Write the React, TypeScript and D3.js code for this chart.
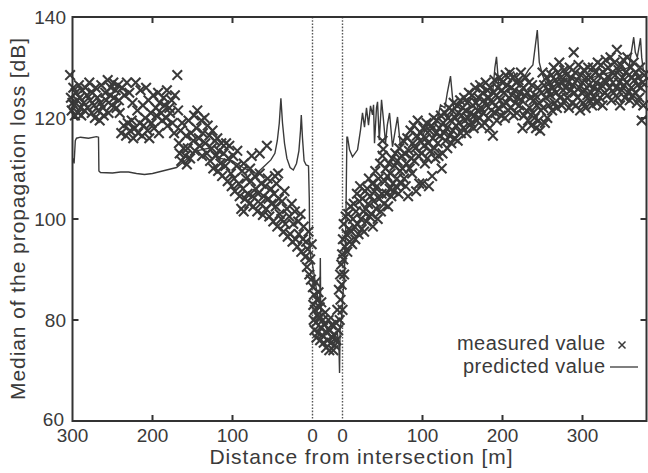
import * as d3 from "d3";

// distance from the intersection [m], median propagation loss [dB]
const measuredWest: [number, number][] = [
  [303, 128.5], [302, 124], [301, 121.5], [300, 123], [299, 126], [298, 122.5], [297, 120.5],
  [296, 125], [294, 123.5], [293, 121], [292, 126.5], [291, 124], [290, 122],
  [289, 120.5], [288, 125.5], [286, 123], [285, 121.5], [284, 126], [282, 124.5], [281, 122],
  [279, 127], [278, 123.5], [276, 121], [275, 125], [273, 122.5], [272, 120], [271, 126],
  [269, 124], [268, 121.5], [266, 119.5], [265, 123], [264, 126.5], [262, 122], [261, 120.5],
  [259, 125], [258, 123.5], [256, 127.5], [255, 121], [253, 124.5], [252, 126], [251, 122.5],
  [249, 127], [248, 124], [246, 125.5], [245, 122], [243, 126.5], [242, 123.5], [241, 121],
  [239, 117], [238, 126], [236, 118.5], [235, 124.5], [233, 116.5], [232, 127], [231, 119],
  [229, 125], [228, 117.5], [226, 119.5], [225, 123], [224, 116], [222, 118], [221, 127],
  [219, 121.5], [218, 117], [216, 119], [215, 125.5], [213, 116.5], [212, 122.5], [211, 118.5],
  [209, 120], [208, 126], [206, 117.5], [205, 123.5], [204, 116], [202, 121], [201, 119],
  [199, 124.5], [198, 118], [196, 122], [195, 120.5], [193, 125], [192, 117], [191, 123],
  [189, 121], [188, 119.5], [186, 124], [185, 122.5], [183, 120], [182, 125.5], [181, 118.5],
  [179, 122], [178, 121], [176, 123.5], [175, 119], [173, 117], [172, 124.5], [169, 128.5],
  [168, 121.5], [167, 115], [166, 113], [165, 117.5], [164, 111.5], [163, 119], [161, 114],
  [159, 112.5], [158, 116.5], [157, 110.8], [156, 114], [155, 119.5], [153, 112], [152, 117],
  [149, 115.5], [148, 120.5], [147, 113.5], [145, 118], [144, 121.5], [142, 116], [141, 114.5],
  [139, 119.5], [138, 112.5], [137, 117], [135, 120], [134, 115], [132, 113], [131, 118.5],
  [129, 116.5], [128, 111.5], [126, 114], [125, 117.5], [124, 110], [122, 115.5], [121, 112.5],
  [119, 116], [118, 109.5], [117, 113.5], [115, 111], [114, 115], [113, 108.5], [111, 113],
  [109, 110.5], [108, 115], [106, 107.5], [105, 112], [104, 114.5], [102, 109], [101, 106.5],
  [99, 112.5], [98, 108], [97, 105.5], [95, 110.5], [94, 113.5], [92, 107], [91, 104.5],
  [89, 102], [88, 109.5], [87, 106], [86, 111], [86, 101.5], [84, 104], [83, 108], [81, 105],
  [79, 103], [78, 110], [77, 107.5], [76, 112.5], [75, 104.5], [74, 102.5], [72, 108.5], [71, 106],
  [69, 101.5], [68, 105], [66, 109], [66, 113], [65, 103], [64, 107], [62, 100.8], [61, 104.5],
  [59, 106.5], [58, 102], [57, 114.5], [56, 108], [55, 104], [54, 100.5], [52, 106], [51, 103],
  [49, 99.5], [48, 105], [47, 108.5], [46, 102.5], [45, 107], [44, 98.5], [43, 109], [42, 104], [41, 101],
  [39, 100], [38, 103.5], [36, 97.5], [35, 105.5], [34, 99], [32, 102], [31, 96.5],
  [29, 100.5], [28, 97], [26, 103], [25, 95.5], [24, 99], [22, 101.5], [21, 96],
  [19, 94.5], [18, 99.5], [17, 97], [15, 101], [14, 93.5], [12, 96], [11, 98.5],
  [9, 92.5], [8, 95.5], [7, 90.5], [6, 94], [5, 97.5], [4, 89], [3, 92], [2, 88], [1, 95],
];

// position inside the intersection [m], loss [dB]
const measuredCentre: [number, number][] = [
  [0.5, 86.5], [1, 83], [1.5, 80], [2, 85], [2.5, 78], [3, 82], [4, 87.5], [4.5, 79.5], [5, 76.5],
  [5.5, 84], [6, 81], [7, 77.5], [7.5, 85.5], [8, 80.5], [9, 82.5], [9.5, 76], [10, 78.5],
  [11, 83.5], [12, 77], [13, 80], [14, 75.5], [15, 79], [16, 81.5], [17, 74.5], [18, 77.5],
  [19, 76], [20, 80], [21, 74], [22, 78], [23, 75.5], [24, 79], [25, 76.5], [26, 74], [27, 77],
  [28, 75], [29, 79.5], [30, 76], [31, 82], [32, 78], [33, 86], [34, 80], [34.5, 89], [35, 84],
  [36, 91], [36.5, 87], [37, 93], [37.5, 82],
];

const measuredEast: [number, number][] = [
  [0.5, 96], [1, 92], [1.5, 99], [2, 89], [3, 94.5], [4, 100.5], [5, 97], [6, 93.5], [7, 101], [8, 98], [9, 95.5],
  [10, 102.5], [11, 97.5], [12, 95], [13, 100], [14, 103], [15, 98.5], [16, 96], [17, 101.5], [18, 105], [19, 99],
  [20, 97], [21, 103.5], [22, 106.5], [23, 100], [24, 98], [25, 104], [26, 101.5], [27, 97.5], [28, 105.5], [29, 102],
  [30, 99.5], [31, 106], [32, 103], [33, 108], [34, 100.5], [35, 104.5], [36, 101], [37, 107], [38, 98.5], [39, 103.5],
  [40, 105.5], [41, 109.5], [42, 102], [43, 106.5], [44, 100], [45, 108], [46, 104], [47, 111], [48, 101.5], [49, 105],
  [50, 115.5], [50, 112.5], [51, 113.8],
  [52, 103], [53, 107.5], [54, 110], [55, 105], [56, 108.5], [57, 102.5], [58, 111], [59, 106],
  [60, 109], [61, 104.5], [62, 112], [63, 107], [64, 105.5], [65, 110.5], [66, 113], [67, 106.5], [68, 108], [69, 111.5],
  [70, 105], [71, 114], [72, 109.5], [73, 107], [74, 112.5], [75, 110], [76, 115.5], [77, 108], [78, 113], [79, 106.5],
  [80, 111], [81, 116], [82, 104.5], [83, 113.5], [84, 110], [85, 117.5], [86, 112], [87, 109], [88, 115], [89, 118.5],
  [90, 111.5], [91, 114], [92, 105.5], [93, 116.5], [94, 119.5], [95, 112.5], [96, 107], [97, 115.5], [98, 117], [99, 113],
  [100, 107], [101, 118], [102, 114.5], [103, 111], [104, 116], [105, 119], [106, 112], [107, 115], [108, 106.5], [109, 117.5],
  [110, 113.5], [111, 118.5], [112, 108.5], [113, 116], [114, 120], [115, 114], [116, 112], [117, 117], [118, 119.5], [119, 115],
  [120, 112.5], [121, 118], [122, 116.5], [123, 120.5], [124, 110], [125, 113], [126, 119], [127, 117], [128, 121], [129, 115.5],
  [130, 118], [131, 114], [132, 120], [133, 122], [134, 116.5], [135, 119.5], [136, 115], [137, 121.5], [138, 117.5], [139, 123],
  [140, 116], [141, 120], [142, 118.5], [143, 122.5], [144, 115.5], [145, 121], [146, 119], [147, 123.5], [148, 117], [149, 120.5],
  [150, 122], [151, 118], [152, 124], [153, 119.5], [154, 121.5], [155, 117], [156, 123], [157, 120], [158, 125], [159, 118.5],
  [160, 121], [161, 119], [162, 124.5], [163, 122.5], [164, 118], [165, 120.5], [166, 126], [167, 123], [168, 119.5], [169, 121.5],
  [170, 124], [171, 120], [172, 126.5], [173, 122], [174, 118.5], [175, 125], [176, 121], [177, 123.5], [178, 119], [179, 127],
  [180, 122.5], [181, 125.5], [182, 120], [183, 124], [184, 118], [185, 126], [186, 121.5], [187, 123], [188, 116.5], [189, 125],
  [190, 127.5], [191, 121], [192, 124.5], [193, 119.5], [194, 126], [195, 122], [196, 128], [197, 123.5], [198, 120.5], [199, 125.5],
  [200, 127], [201, 122.5], [202, 125], [203, 120], [204, 128.5], [205, 123], [206, 126.5], [207, 121.5], [208, 124], [209, 129],
  [210, 122], [211, 126], [212, 124.5], [213, 128], [214, 120.5], [215, 125.5], [216, 123], [217, 127], [218, 121], [219, 124],
  [220, 127.5], [221, 122.5], [222, 125], [223, 129], [224, 123.5], [225, 118], [226, 126], [227, 120.5], [228, 124.5], [229, 128],
  [230, 121.5], [231, 125], [232, 119.5], [233, 127], [234, 122], [235, 124], [236, 118.5], [237, 126.5], [238, 121], [239, 123.5],
  [240, 120], [241, 124.5], [242, 118], [243, 122.5], [244, 126], [245, 119.5], [246, 123], [247, 117.5], [248, 121.5], [249, 125],
  [250, 129], [251, 122], [252, 126.5], [253, 119], [254, 124], [255, 128], [256, 120], [257, 125.5], [258, 122.5], [259, 127],
  [260, 124.5], [261, 128.5], [262, 121.5], [263, 126], [264, 130], [265, 123], [266, 127.5], [267, 125], [268, 122], [269, 129],
  [270, 126.5], [271, 131], [272, 124], [273, 128], [274, 122.5], [275, 127], [276, 125.5], [277, 129.5], [278, 123.5], [279, 126],
  [280, 128.5], [281, 124], [282, 127], [283, 122], [284, 130], [285, 125.5], [286, 128], [287, 123], [288, 126.5], [289, 133],
  [290, 125], [291, 129], [292, 122.5], [293, 127.5], [294, 124], [295, 130.5], [296, 126], [297, 121.5], [298, 128.5], [299, 125],
  [300, 127], [301, 123], [302, 129.5], [303, 125.5], [304, 122], [305, 128], [306, 124.5], [307, 130], [308, 126.5], [309, 123.5],
  [310, 128], [311, 125], [312, 122.5], [313, 130], [314, 126], [315, 124], [316, 129], [317, 127], [318, 123], [319, 131],
  [320, 125.5], [321, 128.5], [322, 124], [323, 130.5], [324, 126.5], [325, 122.5], [326, 129], [327, 127.5], [328, 125], [329, 131.5],
  [330, 127], [331, 124.5], [332, 130], [333, 128], [334, 126], [335, 132], [336, 123.5], [337, 129], [338, 127], [339, 125],
  [340, 131], [341, 128.5], [342, 126], [343, 133.5], [344, 124], [345, 129.5], [346, 127], [347, 122.5], [348, 130.5], [349, 125.5],
  [350, 128], [351, 131.5], [352, 126.5], [353, 124], [354, 129], [355, 127], [356, 132], [357, 125], [358, 128.5], [359, 123.5],
  [360, 130], [361, 126], [362, 128], [363, 124.5], [364, 131], [365, 127.5], [366, 125], [367, 129], [368, 123], [369, 126.5],
  [370, 128], [371, 124], [372, 130], [373, 126], [374, 119.5], [375, 127], [376, 122.5], [377, 128.5],
];

const predictedWest: [number, number][] = [
  [299.5, 112], [298, 111], [296.5, 115.5], [295, 116], [290, 116.2], [280, 116], [270, 116.3], [267.5, 116.2],
  [267, 109.5], [265, 109.2], [250, 109.1], [240, 109.3], [230, 109.3], [220, 109], [210, 108.8], [200, 109],
  [190, 109.4], [180, 109.8], [170, 110.2], [160, 111.5], [145, 113.5], [130, 114], [115, 112], [100, 111.5],
  [85, 110], [70, 109], [60, 110.5], [52, 111.7], [47, 113], [44, 115.5], [41.5, 119], [39.5, 123.9], [37.5, 119],
  [35, 115], [32, 112], [28, 110.2], [24, 109.7], [20, 111], [17, 113.5], [15, 117.5], [14, 120.6], [12.5, 116],
  [10.5, 111.5], [8, 110.7], [5, 110.5], [4, 104], [3.5, 95], [2, 92],
];

const predictedCentre: [number, number][] = [
  [0, 91], [3, 88], [6, 85], [9, 83], [9.8, 92.3], [10.3, 81], [13, 80], [17, 78.5], [22, 77], [27, 76.5],
  [31, 77.5], [33, 75], [33.8, 69.5], [34.5, 78], [36, 80], [37.5, 83],
];

const predictedEast: [number, number][] = [
  [0, 84], [2, 88], [4, 97], [5.5, 116.2], [6.3, 116.2], [8.8, 113.7], [12.5, 112.3], [18.8, 113.7],
  [22.5, 117.6], [25, 121], [27.5, 118.2], [30, 122], [32.5, 118.6], [35, 122.4], [37.5, 120.6], [38.8, 122.6],
  [40, 115], [42.5, 122], [43.8, 123.2], [46, 115.6], [48.8, 123.6], [51, 120], [53.8, 115], [56, 118.6],
  [58.8, 121], [62.5, 114.3], [66, 117.6], [68.8, 120.2], [72.5, 114.3], [76, 115.6], [82, 117], [90, 118.5],
  [100, 116.5], [108, 119], [114, 117.6], [119, 120], [122.5, 122.6], [128, 122], [131, 125], [135, 128.3],
  [139, 121.6], [145, 122.5], [151, 123.2], [157.5, 124], [166, 123.6], [171, 121], [176, 122.5], [182.5, 124.2],
  [188, 125.5], [190.5, 130], [192.5, 132.1], [195, 126.9], [200, 127.2], [206, 127.9], [214, 129.1], [220, 126.9],
  [226, 127.8], [232.5, 129.5], [238, 130.5], [243.5, 137.4], [246, 131], [250, 128.5], [254, 127], [260, 126.1],
  [266, 126.5], [275, 127.5], [290, 128], [305, 127.5], [320, 128.5], [335, 129], [350, 129.5], [358, 130],
  [361, 133], [364, 136], [366, 133], [368.5, 132], [372.5, 135.8], [374, 132], [376, 129.5], [380, 129],
];

const westTicks = [300, 200, 100, 0];
const eastTicks = [0, 100, 200, 300];
const dbTicks = [60, 80, 100, 120, 140];

const W = 648;
const H = 473;
const GAP = 37.5; // width of the intersection drawn between the two zeros
const ink = "#3a3a3a";
const font = "'Liberation Sans', Arial, Helvetica, sans-serif";

export default function App() {
  const x = d3.scaleLinear().domain([-300, GAP + 380]).range([72.5, 646.5]);
  const y = d3.scaleLinear().domain([60, 140]).range([421, 17]);
  const [x0, x1] = x.range();
  const [yb, yt] = y.range();

  const west = (d: number) => x(-d);
  const centre = (p: number) => x(p);
  const east = (d: number) => x(GAP + d);

  const predicted: [number, number][] = [
    ...predictedWest.map(([d, v]) => [west(d), y(v)] as [number, number]),
    ...predictedCentre.map(([p, v]) => [centre(p), y(v)] as [number, number]),
    ...predictedEast.map(([d, v]) => [east(d), y(v)] as [number, number]),
  ];
  const line = d3.line();

  const marks: [number, number][] = [
    ...measuredWest.map(([d, v]) => [west(d), y(v)] as [number, number]),
    ...measuredCentre.map(([p, v]) => [centre(p), y(v)] as [number, number]),
    ...measuredEast.map(([d, v]) => [east(d), y(v)] as [number, number]),
  ];
  const cross = "M-4.8,-4.8L4.8,4.8M-4.8,4.8L4.8,-4.8";

  const xTickPos = [
    ...westTicks.filter((t) => t !== 0 && t !== 300).map(west),
    ...eastTicks.filter((t) => t !== 0).map(east),
  ];
  const yTickPos = dbTicks.filter((t) => t !== 60 && t !== 140).map(y);

  return (
    <svg
      width={W}
      height={H}
      style={{ position: "absolute", left: 0, top: 0, background: "#fff" }}
      fontFamily={font}
    >
      {/* intersection boundaries */}
      {[west(0), east(0)].map((px, i) => (
        <line key={i} x1={px} x2={px} y1={yt} y2={yb} stroke="#555" strokeWidth={1.4} strokeDasharray="1.6,1.6" />
      ))}

      <path d={line(predicted) ?? ""} fill="none" stroke={ink} strokeWidth={1.4} />

      {marks.map(([px, py], i) => (
        <path key={i} d={cross} transform={`translate(${px},${py})`} stroke={ink} strokeWidth={2.1} fill="none" />
      ))}

      {/* frame and ticks */}
      <rect x={x0} y={yt} width={x1 - x0} height={yb - yt} fill="none" stroke="#333" strokeWidth={2} />
      {xTickPos.map((px, i) => (
        <g key={i} stroke="#333" strokeWidth={2}>
          <line x1={px} x2={px} y1={yb} y2={yb - 6} />
          <line x1={px} x2={px} y1={yt} y2={yt + 6} />
        </g>
      ))}
      {yTickPos.map((py, i) => (
        <g key={i} stroke="#333" strokeWidth={2}>
          <line x1={x0} x2={x0 + 6} y1={py} y2={py} />
          <line x1={x1} x2={x1 - 6} y1={py} y2={py} />
        </g>
      ))}

      <g fontSize={19} fill={ink} textAnchor="middle">
        {westTicks.map((t) => (
          <text key={`w${t}`} x={west(t)} y={442}>{t}</text>
        ))}
        {eastTicks.map((t) => (
          <text key={`e${t}`} x={east(t)} y={442}>{t}</text>
        ))}
      </g>
      <g fontSize={19} fill={ink} textAnchor="end">
        {dbTicks.map((t) => (
          <text key={t} x={t === 60 ? 64 : 66} y={y(t) + (t === 60 ? 5 : 7)}>{t}</text>
        ))}
      </g>

      <text x={361} y={464} fontSize={21} fill={ink} textAnchor="middle" textLength={303} lengthAdjust="spacing">
        Distance from intersection [m]
      </text>
      <text
        transform={`translate(25,219) rotate(-90)`}
        fontSize={21}
        fill={ink}
        textAnchor="middle"
        textLength={362}
        lengthAdjust="spacing"
      >
        Median of the propagation loss [dB]
      </text>

      {/* legend */}
      <g fontSize={20} fill={ink} textAnchor="end">
        <text x={605} y={350} textLength={148} lengthAdjust="spacing">measured value</text>
        <text x={605} y={373} textLength={142} lengthAdjust="spacing">predicted value</text>
      </g>
      <path d="M-3.5,-3.5L3.5,3.5M-3.5,3.5L3.5,-3.5" transform="translate(622,345)" stroke={ink} strokeWidth={1.5} fill="none" />
      <line x1={610} x2={638} y1={367} y2={367} stroke={ink} strokeWidth={1.3} />
    </svg>
  );
}
